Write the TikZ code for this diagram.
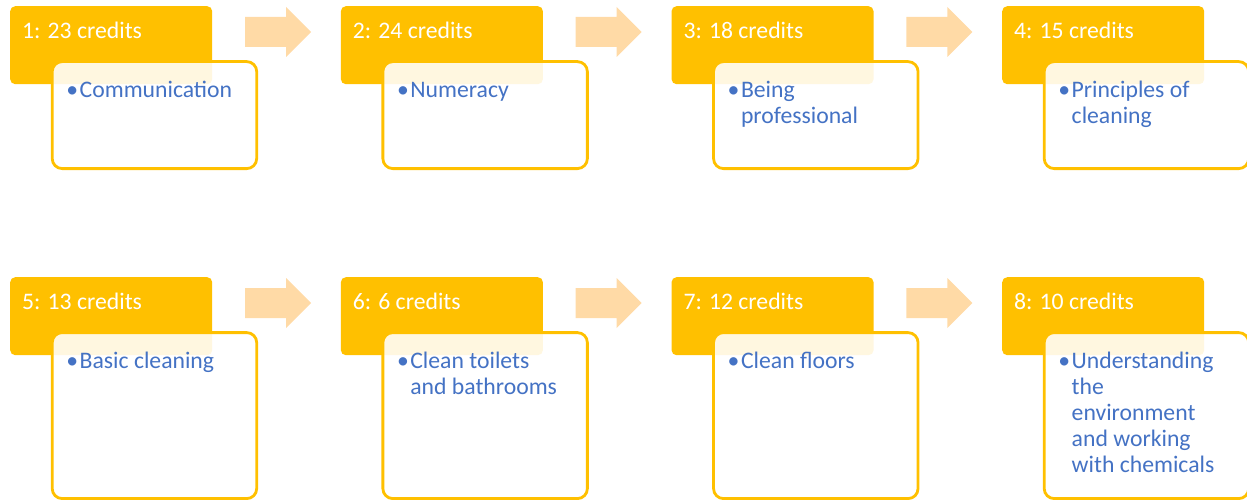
\documentclass[tikz,border=0pt]{standalone}
\usepackage{fontspec}
\setmainfont{Carlito}
\definecolor{gold}{HTML}{FFC000}
\definecolor{peach}{RGB}{255,218,166}
\definecolor{txtblue}{HTML}{4472C4}
\newcommand{\creditstage}[5]{%
  \begin{scope}[shift={({10+330.67*#2},{6+271*#3})}]
    \node[headbox] (h#1) at (0,0) {};
    \node[headtext] (t#1) at (12,32.5) {#4};
    \node[detailbox, minimum height={#3==0 ? 107 : 166}] (d#1) at (40.8,54.2) {};
    \node[itemtext] (i#1) at (69.5,91.5) {\parbox[t]{170pt}{\raggedright\makebox[0pt][r]{•\kern1.5pt}#5}};
  \end{scope}}
\newcommand{\stagearrow}[3]{%
  \begin{scope}[shift={({10+330.67*#2},{6+271*#3})}]
    \coordinate (a#1) at (235,11);
    \fill[flowarrow] (a#1) -- (276,11) -- (276,1) -- (301,26) -- (276,51) -- (276,41) -- (235,41) -- cycle;
  \end{scope}}
\begin{document}
\begin{tikzpicture}[x=1pt,y=-1pt,
  font=\fontsize{23.7}{26}\selectfont,
  headbox/.style={fill=gold, draw=none, rounded corners=5pt, anchor=north west,
    minimum width=202pt, minimum height=78pt, inner sep=0pt},
  headtext/.style={anchor=base west, inner sep=0pt, text=white},
  detailbox/.style={draw=gold, line width=2.8pt, fill=white, fill opacity=0.88,
    rounded corners=10pt, anchor=north west, minimum width=204.5pt, inner sep=0pt},
  itemtext/.style={anchor=base west, inner sep=0pt, text=txtblue},
  flowarrow/.style={fill=peach}]
\useasboundingbox (0,0) rectangle (1247,500);
\creditstage{1}{0}{0}{1: 23 credits}{Communication}
\creditstage{2}{1}{0}{2: 24 credits}{Numeracy}
\creditstage{3}{2}{0}{3: 18 credits}{Being\\professional}
\creditstage{4}{3}{0}{4: 15 credits}{Principles of\\cleaning}
\creditstage{5}{0}{1}{5: 13 credits}{Basic cleaning}
\creditstage{6}{1}{1}{6: 6 credits}{Clean toilets\\and bathrooms}
\creditstage{7}{2}{1}{7: 12 credits}{Clean floors}
\creditstage{8}{3}{1}{8: 10 credits}{Understanding\\the\\environment\\and working\\with chemicals}
\stagearrow{1}{0}{0}
\stagearrow{2}{1}{0}
\stagearrow{3}{2}{0}
\stagearrow{4}{0}{1}
\stagearrow{5}{1}{1}
\stagearrow{6}{2}{1}
\end{tikzpicture}
\end{document}
